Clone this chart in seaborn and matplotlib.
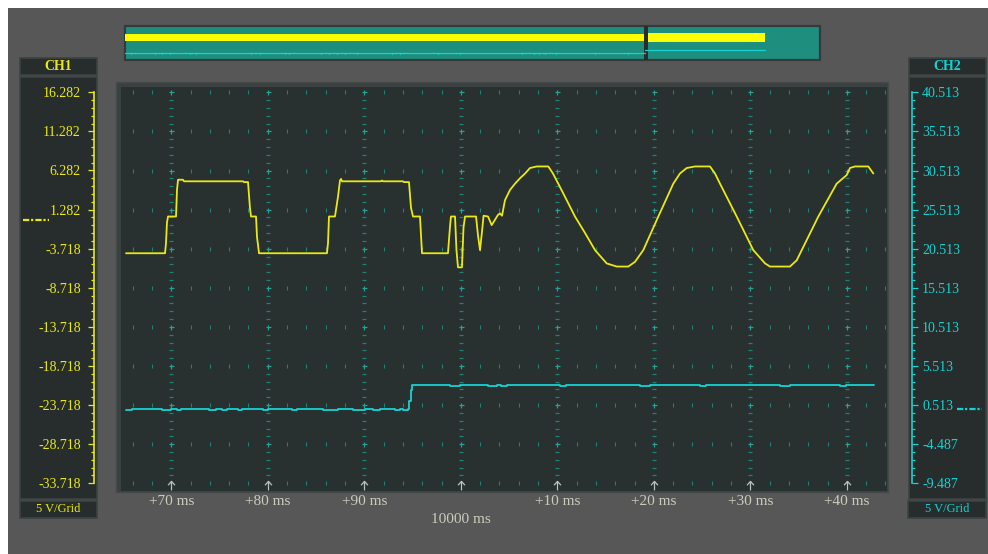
import numpy as np
import matplotlib
matplotlib.use("Agg")
import matplotlib.pyplot as plt
from matplotlib.patches import Rectangle
from matplotlib.path import Path
import seaborn as sns

# ---------------------------------------------------------------- data
# Channel 1 trace: time in ms relative to the 10000 ms reference, volts
ch1_time_ms = [
    -34.69, -30.65, -30.55, -30.45, -30.34, -29.51, -29.41, -29.30, -28.79, -28.68,
    -22.57, -22.47, -22.05, -21.85, -21.74, -21.22, -21.12, -20.91,
    -13.87, -13.76, -13.66, -13.04, -12.73, -12.52, -12.41, -12.31,
    -8.27, -8.17, -8.06, -5.99, -5.89, -5.37, -5.16, -4.95, -4.23, -4.02,
    -1.33, -1.12, -1.02, -0.60, -0.45, -0.29, 0.12, 0.28, 0.44, 1.58, 1.78, 1.99, 2.20, 2.36,
    2.82, 3.20, 3.85, 4.06, 4.27, 4.58, 5.10, 5.62, 6.14, 6.66, 7.17, 7.87, 9.07,
    9.55, 10.10, 10.97, 11.83, 12.87, 13.91, 15.12, 16.16, 17.36,
    18.05, 18.91, 20.47, 22.02, 22.71, 23.41, 24.27, 25.82,
    26.34, 26.86, 28.59, 30.31, 31.53, 32.04, 34.11,
    34.81, 35.33, 37.05, 38.95, 39.99, 40.33, 40.85, 42.23, 42.75,
]
ch1_volts = [
    -4.3, -4.3, -3.0, -0.4, 0.4, 0.4, 3.8, 5.1, 5.1, 4.9,
    4.9, 4.8, 4.8, 1.5, 0.4, 0.4, -2.2, -4.3,
    -4.3, -3.0, 0.4, 0.4, 2.9, 5.0, 5.2, 4.9,
    4.9, 5.0, 4.9, 4.9, 4.8, 4.8, 1.5, 0.4, 0.4, -4.3,
    -4.3, -0.9, 0.4, 0.4, -3.9, -6.1, -6.1, -1.0, 0.4, 0.4, -2.0, -3.9, -1.5, 0.5,
    0.4, -0.7, 0.6, 0.8, 0.5, 2.5, 3.8, 4.6, 5.3, 5.9, 6.6, 6.8, 6.8,
    5.9, 4.6, 2.5, 0.4, -1.7, -3.9, -5.6, -6.0, -6.0,
    -5.4, -3.9, 0.4, 4.6, 5.9, 6.6, 6.8, 6.8,
    5.9, 4.6, 0.4, -3.9, -5.6, -6.0, -6.0,
    -5.2, -3.9, 0.4, 4.6, 5.7, 6.6, 6.8, 6.8, 5.9,
]

# Channel 2 trace: level changes (held until the next sample)
ch2_time_ms = [
    -34.69, -34.07, -30.96, -30.03, -29.41, -29.00, -26.10, -25.37, -24.75, -24.23,
    -23.09, -22.67, -20.50, -19.98, -17.49, -16.97, -14.28, -12.73, -11.17, -9.93,
    -9.10, -8.37, -6.82, -6.30, -5.99, -5.47, -5.32, -5.16, -5.01,
    -1.12, -0.08, 2.82, 3.75, 4.17, 4.79, 10.28, 10.90, 18.57, 19.61,
    24.79, 25.41, 33.08, 34.11, 39.29, 39.90, 42.82,
]
ch2_volts = [
    -0.13, 0.0, -0.13, 0.0, -0.13, 0.0, -0.13, 0.0, -0.13, 0.0,
    -0.13, 0.0, -0.13, 0.0, -0.13, 0.0, -0.13, 0.0, -0.13, 0.0,
    -0.13, 0.0, -0.13, 0.0, -0.13, 0.0, 1.0, 2.4, 3.05,
    2.92, 3.05, 2.92, 3.05, 2.92, 3.05, 2.92, 3.05, 2.92, 3.05,
    2.92, 3.05, 2.92, 3.05, 2.92, 3.05, 3.05,
]

ch1_tick_values = [-33.718, -28.718, -23.718, -18.718, -13.718, -8.718,
                   -3.718, 1.282, 6.282, 11.282, 16.282]
ch1_tick_labels = ["-33.718", "-28.718", "-23.718", "-18.718", "-13.718", "-8.718",
                   "-3.718", "1.282", "6.282", "11.282", "16.282"]
ch2_tick_values = [-9.487, -4.487, 0.513, 5.513, 10.513, 15.513,
                   20.513, 25.513, 30.513, 35.513, 40.513]
ch2_tick_labels = ["-9.487", "-4.487", "0.513", "5.513", "10.513", "15.513",
                   "20.513", "25.513", "30.513", "35.513", "40.513"]
time_tick_ms = [-30, -20, -10, 0, 10, 20, 30, 40]
time_tick_labels = ["+70 ms", "+80 ms", "+90 ms", "", "+10 ms", "+20 ms", "+30 ms", "+40 ms"]
base_time_label = "10000 ms"
channel_names = ["CH1", "CH2"]
scale_label = "5 V/Grid"
channel_zero_volts = [0.0, 0.0]

# ---------------------------------------------------------------- style
sns.set_theme(style="dark")
plt.rcParams["font.family"] = ["Liberation Serif", "DejaVu Serif"]
plt.rcParams["lines.scale_dashes"] = False

W, H = 988, 554
BG = "#575757"
PANEL = "#272d2d"
PANEL_EDGE = "#3c4242"
SCREEN = "#283030"
YEL = "#eaea12"
CYAN = "#17d2d2"
GRID = "#1a8479"
GRID_HI = "#22a396"
LABEL = "#cbcbbc"

fig = plt.figure(figsize=(W / 100, H / 100), dpi=100, facecolor="white")


def frac(x0, y0, x1, y1):
    """Pixel box (top-left origin) -> figure fraction rect."""
    return [x0 / W, 1 - y1 / H, (x1 - x0) / W, (y1 - y0) / H]


# background / decoration layer in pixel units
bg = fig.add_axes([0, 0, 1, 1], zorder=0)
bg.set_xlim(0, W)
bg.set_ylim(H, 0)
bg.axis("off")
bg.add_patch(Rectangle((8, 8), W - 8, H - 8, fc=BG, ec="none"))


def box(x0, y0, x1, y1, fc=PANEL, ec=PANEL_EDGE, lw=1.2):
    bg.add_patch(Rectangle((x0, y0), x1 - x0, y1 - y0, fc=fc, ec=ec, lw=lw))


# overview strip of the whole record
box(125, 26, 820, 60, fc="#1e8f7e", ec="#363a3a", lw=1.6)
box(125, 34, 645, 41, fc="#ffff00", ec="none", lw=0)
box(645, 32.7, 765, 42.3, fc="#ffff00", ec="none", lw=0)
bg.plot([125, 645], [52.7, 52.7], color=CYAN, lw=0.9)
bg.plot([645, 765], [50.3, 50.3], color=CYAN, lw=0.9)
for xt in [131, 155, 162, 170, 190, 196, 251, 260, 285, 289, 321, 329, 337, 345,
           357, 392, 400, 438, 460, 522, 534, 539, 545, 556, 595, 628]:
    bg.plot([xt, xt], [52.7, 54.2], color=CYAN, lw=0.8)
box(643.5, 26, 647.5, 60, fc="#2a2c2c", ec="none", lw=0)

# channel side panels
box(20, 58, 97, 75)
box(20, 77, 97, 499)
box(20, 501, 97, 518)
box(909, 58, 986, 75)
box(909, 77, 986, 499)
box(908, 501, 986, 518)
bg.text(58.5, 66.5, channel_names[0], color=YEL, fontsize=10, fontweight="bold",
        ha="center", va="center")
bg.text(58.5, 509.5, scale_label, color=YEL, fontsize=9, ha="center", va="center")
bg.text(947.5, 66.5, channel_names[1], color=CYAN, fontsize=10, fontweight="bold",
        ha="center", va="center")
bg.text(947, 509.5, scale_label, color=CYAN, fontsize=9, ha="center", va="center")

# bevelled frame of the screen
box(116, 82, 888, 492, fc="#3b4141", ec="#444a4a", lw=1.0)

# ---------------------------------------------------------------- screen
PX_PER_MS = 9.65
T0_PX = 460.8
TOP_PX, BOT_PX = 92.3, 483.3
px_per_volt = (BOT_PX - TOP_PX) / (ch1_tick_values[-1] - ch1_tick_values[0])
SX0, SY0, SX1, SY1 = 121, 87, 887, 491

ax = fig.add_axes(frac(SX0, SY0, SX1, SY1), zorder=1)
ax.set_facecolor(SCREEN)
xlim = ((SX0 - T0_PX) / PX_PER_MS, (SX1 - T0_PX) / PX_PER_MS)
ylim1 = (ch1_tick_values[-1] - (SY1 - TOP_PX) / px_per_volt,
         ch1_tick_values[-1] + (TOP_PX - SY0) / px_per_volt)
offset = ch2_tick_values[-1] - ch1_tick_values[-1]
ylim2 = (ylim1[0] + offset, ylim1[1] + offset)

# dotted graticule
row_t = [t for t in np.arange(-34, 45, 2) if t not in time_tick_ms]
col_v = [v for v in np.arange(ch1_tick_values[0], ch1_tick_values[-1] + 0.01, 1.0)
         if min(abs(v - r) for r in ch1_tick_values) > 0.01]
for r in ch1_tick_values:
    ax.plot(row_t, [r] * len(row_t), ls="none", marker="|", ms=2.6, mew=0.8,
            color=GRID, zorder=1)
for c in time_tick_ms:
    ax.plot([c] * len(col_v), col_v, ls="none", marker="_", ms=2.6, mew=0.9,
            color=GRID, zorder=1)
    ax.plot([c] * (len(ch1_tick_values) - 1), ch1_tick_values[1:], ls="none",
            marker="+", ms=3.6, mew=0.9, color=GRID_HI, zorder=1)
arrow = Path([(-0.5, -0.25), (0, 0.3), (0.5, -0.25), (0, 0.3), (0, -1.0)],
             [Path.MOVETO, Path.LINETO, Path.LINETO, Path.MOVETO, Path.LINETO])
ax.plot(time_tick_ms, [ch1_tick_values[0]] * len(time_tick_ms), ls="none",
        marker=arrow, ms=10, mew=0.9, mfc="none", color="#b9c2bd", zorder=2)

# traces
sns.lineplot(x=ch1_time_ms, y=ch1_volts, ax=ax, color=YEL, lw=1.3,
             sort=False, estimator=None, zorder=3)
ax2 = ax.twinx()
sns.lineplot(x=ch2_time_ms, y=ch2_volts, ax=ax2, color=CYAN, lw=1.3,
             sort=False, estimator=None, drawstyle="steps-post", zorder=3)

for a, yl in ((ax, ylim1), (ax2, ylim2)):
    a.set_xlim(*xlim)
    a.set_ylim(*yl)
    a.set_yticks([])
    a.set_xlabel("")
    a.set_ylabel("")
    a.grid(False)
    for s in a.spines.values():
        s.set_visible(False)
ax2.patch.set_visible(False)

ax.set_xticks(time_tick_ms, labels=time_tick_labels)
ax.tick_params(axis="x", length=0, pad=2.6, labelcolor=LABEL, labelsize=11)
ax.annotate(base_time_label, xy=(0, 0), xycoords=("data", "axes fraction"),
            xytext=(0, -20.5), textcoords="offset points", ha="center", va="center",
            color=LABEL, fontsize=11, annotation_clip=False)

# ---------------------------------------------------------------- channel scales
ch1_minor = np.arange(ch1_tick_values[0], ch1_tick_values[-1] + 0.01, 1.0)
ch2_minor = np.arange(ch2_tick_values[0], ch2_tick_values[-1] + 0.01, 1.0)

s1 = fig.add_axes(frac(20, TOP_PX, 94.3, BOT_PX), zorder=2)
s1.patch.set_visible(False)
s1.set_xlim(20, 94.3)
s1.set_ylim(ch1_tick_values[0], ch1_tick_values[-1])
s1.set_xticks([])
for k, s in s1.spines.items():
    s.set_visible(k == "right")
s1.spines["right"].set_color(YEL)
s1.spines["right"].set_linewidth(1.2)
s1.yaxis.tick_right()
s1.set_yticks(ch1_tick_values, labels=ch1_tick_labels)
s1.set_yticks(ch1_minor, minor=True)
s1.tick_params(axis="y", which="both", right=True, left=False)
s1.tick_params(axis="y", which="major", direction="in", length=4, width=0.9,
               color=YEL, labelcolor=YEL, labelsize=10, pad=-9.6)
s1.tick_params(axis="y", which="minor", direction="in", length=2.2, width=0.9, color=YEL)
for lab in s1.get_yticklabels():
    lab.set_horizontalalignment("right")
s1.plot([23, 49.3], [channel_zero_volts[0]] * 2, color=YEL, lw=1.6,
        ls=(0, (4.5, 1.3, 1.6, 1.5)), solid_capstyle="butt")

s2 = fig.add_axes(frac(912.3, TOP_PX, 986, BOT_PX), zorder=2)
s2.patch.set_visible(False)
s2.set_xlim(912.3, 986)
s2.set_ylim(ch2_tick_values[0], ch2_tick_values[-1])
s2.set_xticks([])
for k, s in s2.spines.items():
    s.set_visible(k == "left")
s2.spines["left"].set_color(CYAN)
s2.spines["left"].set_linewidth(1.2)
s2.set_yticks(ch2_tick_values, labels=ch2_tick_labels)
s2.set_yticks(ch2_minor, minor=True)
s2.tick_params(axis="y", which="both", left=True, right=False)
s2.tick_params(axis="y", which="major", direction="in", length=4, width=0.9,
               color=CYAN, labelcolor=CYAN, labelsize=10, pad=-7.0)
s2.tick_params(axis="y", which="minor", direction="in", length=2.2, width=0.9, color=CYAN)
for lab in s2.get_yticklabels():
    lab.set_horizontalalignment("left")
s2.plot([956.7, 981.7], [channel_zero_volts[1]] * 2, color=CYAN, lw=1.6,
        ls=(0, (4.5, 1.3, 1.6, 1.5)), solid_capstyle="butt")

fig.savefig("out.png", dpi=100, facecolor=fig.get_facecolor())
